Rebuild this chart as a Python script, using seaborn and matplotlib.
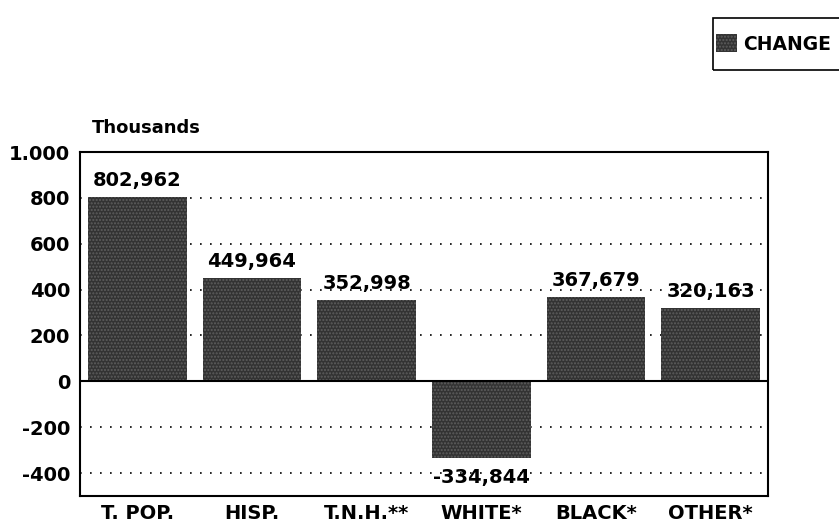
import numpy as np
import pandas as pd
import matplotlib.pyplot as plt
import seaborn as sns
from matplotlib.patches import Rectangle

groups = ['T. POP.', 'HISP.', 'T.N.H.**', 'WHITE*', 'BLACK*', 'OTHER*']
change = [802.962, 449.964, 352.998, -334.844, 367.679, 320.163]
value_labels = ['802,962', '449,964', '352,998', '-334,844', '367,679', '320,163']
yticks = [-400, -200, 0, 200, 400, 600, 800, 1000]
ytick_labels = ['-400', '-200', '0', '200', '400', '600', '800', '1.000']

sns.set_style('white')
plt.rcParams['font.family'] = ['DejaVu Sans']
plt.rcParams['text.color'] = 'black'
plt.rcParams['xtick.color'] = 'black'
plt.rcParams['ytick.color'] = 'black'

df = pd.DataFrame({'group': groups, 'change': change})

fig = plt.figure(figsize=(8.39, 5.27), dpi=100)
ax = fig.add_axes([80 / 839, 31 / 527, 688 / 839, 344 / 527])

sns.barplot(data=df, x='group', y='change', color='#333333', width=0.86,
            saturation=1, ax=ax)
for bar in ax.patches:
    bar.set_hatch('.....')
    bar.set_edgecolor('#5e5e5e')
    bar.set_linewidth(0)

ax.set_ylim(-500, 1000)
ax.set_xlim(-0.5, 5.5)
ax.set_yticks(yticks)
ax.set_yticklabels(ytick_labels, fontsize=14, fontweight='bold')
ax.set_xticks(range(len(groups)))
ax.set_xticklabels(groups, fontsize=14, fontweight='bold')
ax.tick_params(axis='y', length=0, pad=7)
ax.tick_params(axis='x', length=0, pad=6)
ax.set_xlabel('')
ax.set_ylabel('')

for y in [-400, -200, 200, 400, 600, 800]:
    ax.axhline(y, color='black', linestyle=(0, (1, 5)), linewidth=1.2, zorder=0)
ax.axhline(0, color='black', linewidth=1.5, zorder=3)

for i, (v, lab) in enumerate(zip(change, value_labels)):
    if v >= 0:
        ax.text(i, v + 30, lab, ha='center', va='bottom', fontsize=14,
                fontweight='bold')
    else:
        ax.text(i, v - 45, lab, ha='center', va='top', fontsize=14,
                fontweight='bold')

for s in ax.spines.values():
    s.set_linewidth(1.5)
    s.set_color('black')

fig.text(92 / 839, 1 - 128 / 527, 'Thousands', fontsize=13, fontweight='bold',
         va='center', ha='left')

# legend box runs off the right edge like in the original
fig.patches.append(Rectangle((713 / 839, 1 - 70 / 527), 140 / 839, 52 / 527,
                             transform=fig.transFigure, fill=False,
                             edgecolor='black', linewidth=1.2))
leg = fig.legend(handles=[ax.patches[0]], labels=['CHANGE'], loc='center left',
                 bbox_to_anchor=(714 / 839, 1 - 44 / 527), frameon=False,
                 fontsize=13.5, handlelength=1.1, handleheight=1.1,
                 borderpad=0.1, handletextpad=0.35, borderaxespad=0)
for t in leg.get_texts():
    t.set_fontweight('bold')

fig.savefig('out.png', dpi=100)
